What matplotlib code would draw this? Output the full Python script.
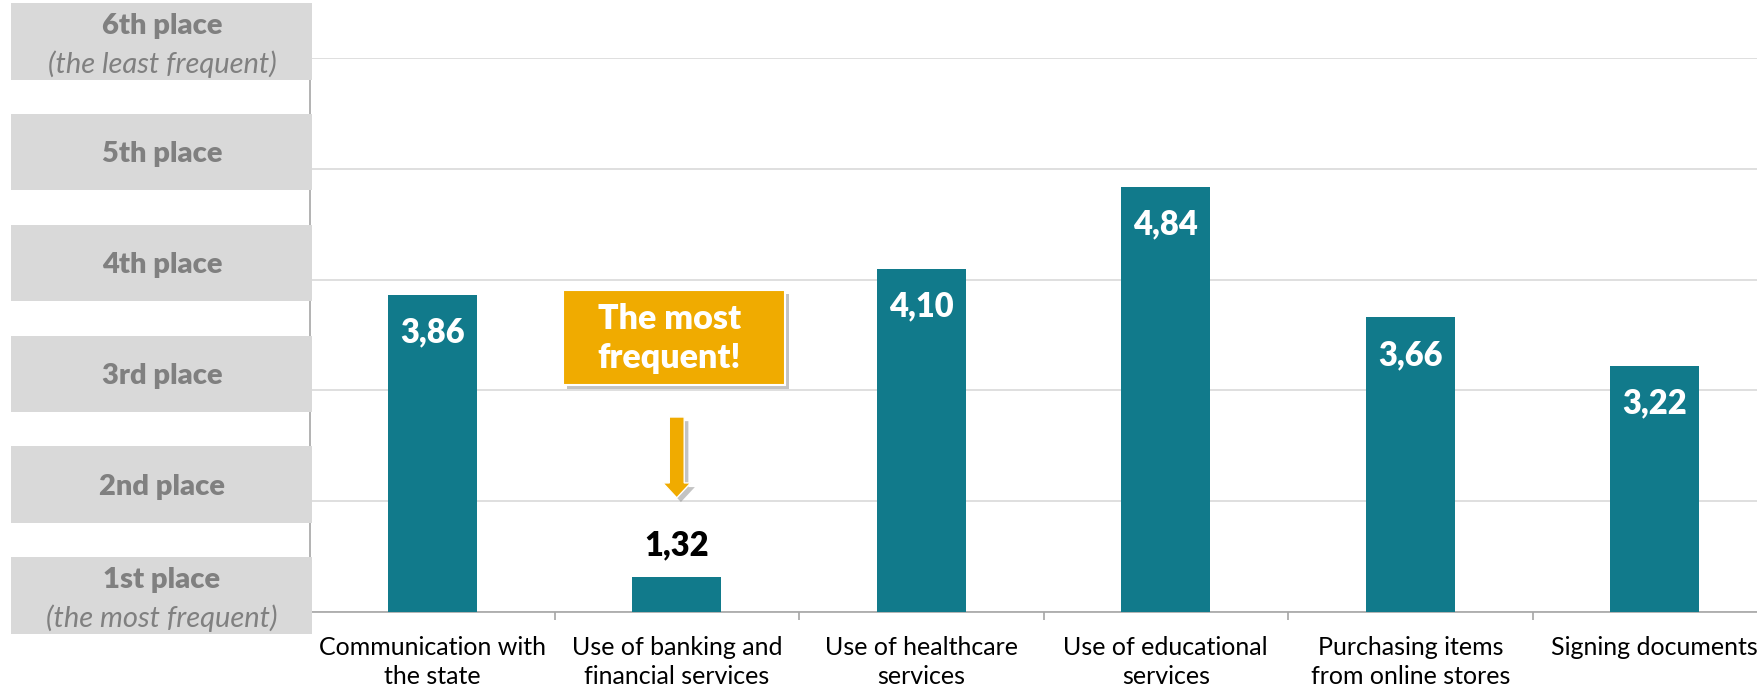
import numpy as np
import matplotlib.pyplot as plt
import matplotlib.patheffects as pe
from matplotlib.patches import Rectangle, FancyArrow
from matplotlib.transforms import blended_transform_factory

plt.rcParams['font.family'] = ['Lato', 'DejaVu Sans']

# DATA
categories = ["Communication with\nthe state", "Use of banking and\nfinancial services",
              "Use of healthcare\nservices", "Use of educational\nservices",
              "Purchasing items\nfrom online stores", "Signing documents"]
avgRank = [3.86, 1.32, 4.10, 4.84, 3.66, 3.22]
rankLabels = ["1st place", "2nd place", "3rd place", "4th place", "5th place", "6th place"]
rankNotes = {0: "(the most frequent)", 5: "(the least frequent)"}
highlight = 1  # index of the most frequent category
calloutText = "The most\nfrequent!"

barColour = '#117A8B'
orange = '#F0AB00'
boxGrey = '#D9D9D9'
textGrey = '#808080'

fig = plt.figure(figsize=(17.57, 6.95), dpi=100)
ax = fig.add_axes([310/1757, 83/695, 1467/1757, 554/695])

x = np.arange(len(categories))
heights = np.array(avgRank) - 1  # rank 1 sits on the baseline
ax.bar(x, heights, width=0.365, color=barColour, zorder=3)

ax.set_xlim(-0.5, len(categories) - 0.5)
ax.set_ylim(0, 5)
ax.set_yticks(np.arange(0, 6))
ax.set_yticklabels([])
ax.tick_params(axis='y', length=0)
ax.grid(axis='y', color='#D9D9D9', linewidth=1.2, zorder=0)

ax.set_xticks(x)
ax.set_xticklabels(categories, fontsize=18, linespacing=1.32)
ax.tick_params(axis='x', which='major', length=0, pad=17)
ax.set_xticks(np.arange(0.5, len(categories) - 0.5), minor=True)
ax.tick_params(axis='x', which='minor', length=6, color='#A6A6A6', width=1.2)

for s in ['top', 'right']:
    ax.spines[s].set_visible(False)
for s in ['left', 'bottom']:
    ax.spines[s].set_color('#A6A6A6')
    ax.spines[s].set_linewidth(1.2)

# value labels
for i, (v, h) in enumerate(zip(avgRank, heights)):
    lbl = '{:.2f}'.format(v).replace('.', ',')
    if i == highlight:
        ax.text(i, h + 0.28, lbl, ha='center', va='center', fontsize=23.5,
                fontweight='heavy', color='black', zorder=5)
    else:
        ax.text(i, h - 0.34, lbl, ha='center', va='center', fontsize=23.5,
                fontweight='heavy', color='white', zorder=5)

# rank boxes on the left
trans = blended_transform_factory(fig.transFigure, ax.transData)
for i, name in enumerate(rankLabels):
    yc = i + 0.15
    ax.add_patch(Rectangle((11/1757, yc - 0.345), 301/1757, 0.69, transform=trans,
                           facecolor=boxGrey, edgecolor='none', clip_on=False, zorder=6))
    if i in rankNotes:
        ax.text(162/1757, yc + 0.14, name, transform=trans, ha='center', va='center',
                fontsize=21, fontweight='heavy', color=textGrey, zorder=7)
        ax.text(162/1757, yc - 0.21, rankNotes[i], transform=trans, ha='center', va='center',
                fontsize=21, fontstyle='italic', color=textGrey, zorder=7)
    else:
        ax.text(162/1757, yc - 0.02, name, transform=trans, ha='center', va='center',
                fontsize=21, fontweight='heavy', color=textGrey, zorder=7)

# callout
shadow = [pe.withSimplePatchShadow(offset=(3, -3), shadow_rgbFace='#888888', alpha=0.5)]
box = Rectangle((highlight - 0.465, 2.05), 0.908, 0.86, facecolor=orange,
                edgecolor='white', linewidth=1.5, zorder=8, path_effects=shadow)
ax.add_patch(box)
ax.text(highlight - 0.03, 2.47, calloutText, ha='center', va='center', fontsize=24.5,
        fontweight='heavy', color='white', linespacing=1.25, zorder=9)
arrow = FancyArrow(highlight, 1.76, 0, -0.73, width=0.061, head_width=0.114,
                   head_length=0.135, length_includes_head=True, facecolor=orange,
                   edgecolor='white', linewidth=1, zorder=8, path_effects=shadow)
ax.add_patch(arrow)

fig.savefig('out.png', dpi=100)
